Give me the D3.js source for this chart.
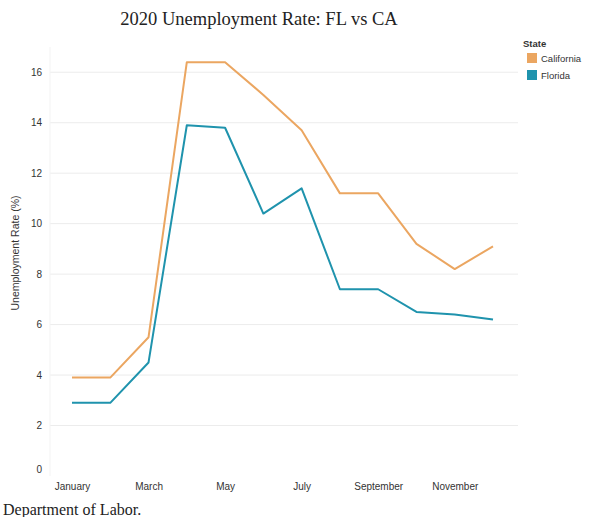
<!DOCTYPE html>
<html>
<head>
<meta charset="utf-8">
<script src="https://cdn.jsdelivr.net/npm/d3@7"></script>
<style>
  html, body { margin: 0; padding: 0; background: #fff; }
  svg { display: block; }
</style>
</head>
<body>
<svg id="chart" width="591" height="517"></svg>
<script>
const months = ["January","February","March","April","May","June","July","August","September","October","November","December"];
const california = [3.9, 3.9, 5.5, 16.4, 16.4, 15.1, 13.7, 11.2, 11.2, 9.2, 8.2, 9.1];
const florida = [2.9, 2.9, 4.5, 13.9, 13.8, 10.4, 11.4, 7.4, 7.4, 6.5, 6.4, 6.2];
const seriesNames = ["California", "Florida"];
const seriesColors = ["#eba661", "#1f93ad"];
const yTicks = [0, 2, 4, 6, 8, 10, 12, 14, 16];
const xTickLabels = ["January", "March", "May", "July", "September", "November"];

const svg = d3.select("#chart");
const plotL = 50, plotR = 518, plotT = 47, plotB = 476;

const x = d3.scalePoint().domain(months).range([72, 493]);
const y = d3.scaleLinear().domain([0, 17]).range([plotB, plotT]);

// gridlines
svg.append("g").selectAll("line").data(yTicks.filter(d => d > 0)).join("line")
  .attr("x1", plotL).attr("x2", plotR)
  .attr("y1", d => y(d)).attr("y2", d => y(d))
  .attr("stroke", "#ececec").attr("stroke-width", 1);

svg.append("line").attr("x1", plotL).attr("x2", plotL).attr("y1", plotT).attr("y2", plotB)
  .attr("stroke", "#f3f3f3");

// y axis
const yAxis = svg.append("g").attr("transform", `translate(${plotL - 6},0)`)
  .call(d3.axisLeft(y).tickValues(yTicks).tickSize(0).tickPadding(2));
yAxis.select(".domain").remove();
yAxis.selectAll("text").attr("font-family", "Liberation Sans, Arial, sans-serif")
  .attr("font-size", 10).attr("fill", "#333")
  .attr("dy", d => d === 0 ? "-0.4em" : "0.32em");

// x axis
const xAxis = svg.append("g").attr("transform", `translate(0,${plotB + 5})`)
  .call(d3.axisBottom(x).tickValues(xTickLabels).tickSize(0).tickPadding(2));
xAxis.select(".domain").remove();
xAxis.selectAll("text").attr("font-family", "Liberation Sans, Arial, sans-serif")
  .attr("font-size", 10).attr("fill", "#333");

// lines
const line = d3.line().x((d, i) => x(months[i])).y(d => y(d));
[california, florida].forEach((vals, k) => {
  svg.append("path").datum(vals)
    .attr("d", line).attr("fill", "none")
    .attr("stroke", seriesColors[k]).attr("stroke-width", 2)
    .attr("stroke-linejoin", "round");
});

// title
svg.append("text").attr("x", 259).attr("y", 25).attr("text-anchor", "middle")
  .attr("font-family", "Liberation Serif, Times New Roman, serif")
  .attr("font-size", 18.5).attr("fill", "#222")
  .text("2020 Unemployment Rate: FL vs CA");

// y title
svg.append("text").attr("transform", `translate(19,253) rotate(-90)`)
  .attr("text-anchor", "middle")
  .attr("font-family", "Liberation Sans, Arial, sans-serif")
  .attr("font-size", 10.5).attr("fill", "#333")
  .text("Unemployment Rate (%)");

// legend
const lg = svg.append("g").attr("transform", "translate(523,0)");
lg.append("text").attr("x", 0).attr("y", 47)
  .attr("font-family", "Liberation Sans, Arial, sans-serif")
  .attr("font-size", 9.5).attr("font-weight", "bold").attr("fill", "#333")
  .text("State");
seriesNames.forEach((n, i) => {
  lg.append("rect").attr("x", 4).attr("y", 53 + i * 17).attr("width", 10).attr("height", 10)
    .attr("fill", seriesColors[i]);
  lg.append("text").attr("x", 18).attr("y", 62 + i * 17)
    .attr("font-family", "Liberation Sans, Arial, sans-serif")
    .attr("font-size", 9.5).attr("fill", "#333").text(n);
});

// footer
svg.append("text").attr("x", 3).attr("y", 515)
  .attr("font-family", "Liberation Serif, Times New Roman, serif")
  .attr("font-size", 16).attr("fill", "#222")
  .text("Department of Labor.");
</script>
</body>
</html>
